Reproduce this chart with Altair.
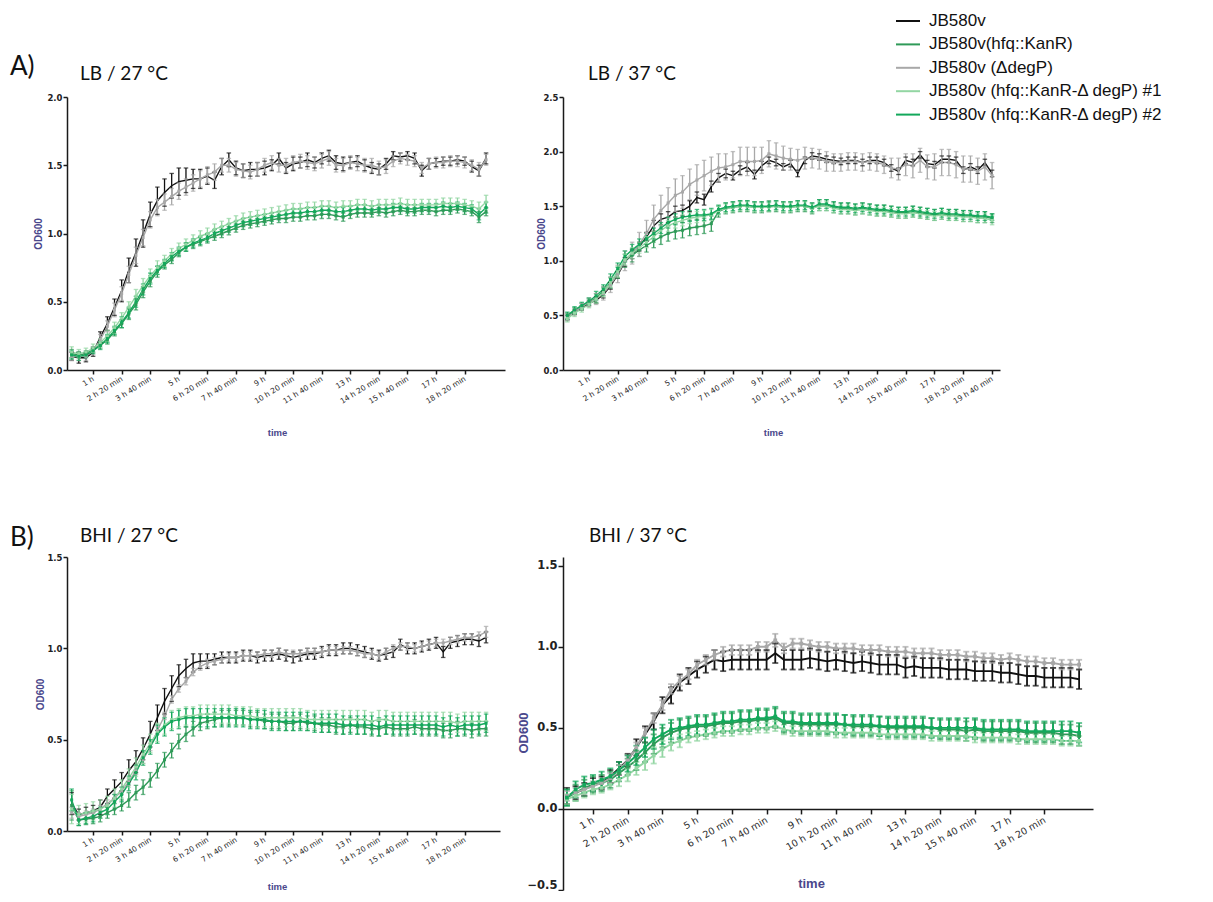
import altair as alt
import pandas as pd

# ---------------- series / styling ----------------
SERIES = ["JB580v", "JB580v(hfq::KanR)", "JB580v (ΔdegP)",
          "JB580v (hfq::KanR-Δ degP) #1", "JB580v (hfq::KanR-Δ degP) #2"]
COLORS = ["#111111", "#2f9a58", "#a8a8a8", "#93d6a3", "#13a85b"]
STEP_MIN = 20  # one reading every 20 min

XT14 = [60, 140, 220, 300, 380, 460, 540, 620, 700, 780, 860, 940, 1020, 1100]
XT15 = XT14 + [1180]

# ---------------- A) LB / 27 °C ----------------
LB27_WT = [0.10, 0.09, 0.09, 0.13, 0.24, 0.34, 0.46, 0.58, 0.73, 0.86,
           1.00, 1.14, 1.24, 1.30, 1.35, 1.38, 1.39, 1.40, 1.40, 1.42,
           1.39, 1.49, 1.54, 1.48, 1.46, 1.47, 1.47, 1.48, 1.50, 1.55,
           1.48, 1.51, 1.52, 1.54, 1.52, 1.55, 1.57, 1.52, 1.51, 1.52,
           1.53, 1.50, 1.48, 1.47, 1.51, 1.57, 1.56, 1.57, 1.55, 1.46,
           1.51, 1.52, 1.53, 1.53, 1.54, 1.53, 1.49, 1.46, 1.55]
LB27_WT_SD = [0.03, 0.04, 0.03, 0.03, 0.04, 0.05, 0.06, 0.08, 0.09, 0.10,
              0.10, 0.09, 0.10, 0.10, 0.09, 0.10, 0.09, 0.07, 0.07, 0.06,
              0.06, 0.06, 0.05, 0.05, 0.05, 0.05, 0.05, 0.05, 0.04, 0.04,
              0.04, 0.05, 0.04, 0.05, 0.04, 0.04, 0.04, 0.05, 0.05, 0.04,
              0.04, 0.04, 0.04, 0.04, 0.04, 0.03, 0.03, 0.03, 0.04, 0.04,
              0.04, 0.03, 0.03, 0.03, 0.03, 0.03, 0.04, 0.04, 0.04]
LB27_HFQ = [0.12, 0.11, 0.12, 0.15, 0.18, 0.22, 0.28, 0.34, 0.41, 0.48,
            0.57, 0.65, 0.72, 0.77, 0.81, 0.86, 0.90, 0.92, 0.94, 0.96,
            0.98, 1.00, 1.02, 1.04, 1.06, 1.07, 1.08, 1.09, 1.10, 1.11,
            1.11, 1.12, 1.12, 1.13, 1.13, 1.14, 1.14, 1.13, 1.12, 1.14,
            1.15, 1.15, 1.15, 1.16, 1.15, 1.16, 1.17, 1.16, 1.16, 1.17,
            1.17, 1.16, 1.17, 1.17, 1.18, 1.17, 1.16, 1.12, 1.16]
LB27_HFQ_SD = [0.03, 0.02, 0.02, 0.02, 0.02, 0.03, 0.03, 0.03, 0.04, 0.04,
               0.04, 0.04, 0.04, 0.03, 0.03, 0.03, 0.03, 0.03, 0.03, 0.03,
               0.03, 0.03, 0.03, 0.03, 0.03, 0.03, 0.03, 0.03, 0.03, 0.03,
               0.03, 0.03, 0.03, 0.03, 0.03, 0.03, 0.03, 0.03, 0.03, 0.03,
               0.03, 0.03, 0.03, 0.03, 0.03, 0.03, 0.03, 0.03, 0.03, 0.03,
               0.03, 0.03, 0.03, 0.03, 0.03, 0.03, 0.03, 0.04, 0.03]
LB27_DEGP = [0.10, 0.10, 0.10, 0.14, 0.22, 0.32, 0.44, 0.56, 0.70, 0.84,
             0.97, 1.10, 1.19, 1.23, 1.27, 1.31, 1.34, 1.37, 1.40, 1.43,
             1.45, 1.50, 1.50, 1.47, 1.46, 1.45, 1.47, 1.50, 1.52, 1.50,
             1.50, 1.52, 1.53, 1.52, 1.51, 1.53, 1.55, 1.50, 1.50, 1.52,
             1.51, 1.50, 1.50, 1.48, 1.49, 1.53, 1.55, 1.54, 1.53, 1.48,
             1.51, 1.52, 1.52, 1.53, 1.53, 1.52, 1.50, 1.47, 1.54]
LB27_DEGP_SD = [0.03, 0.03, 0.03, 0.03, 0.04, 0.04, 0.05, 0.05, 0.06, 0.06,
                0.06, 0.06, 0.06, 0.06, 0.06, 0.06, 0.06, 0.06, 0.06, 0.06,
                0.06, 0.05, 0.05, 0.05, 0.05, 0.05, 0.05, 0.05, 0.05, 0.05,
                0.05, 0.05, 0.05, 0.05, 0.05, 0.05, 0.05, 0.05, 0.05, 0.05,
                0.05, 0.05, 0.05, 0.05, 0.05, 0.04, 0.04, 0.04, 0.04, 0.04,
                0.04, 0.04, 0.04, 0.04, 0.04, 0.04, 0.04, 0.05, 0.04]
LB27_D1 = [0.13, 0.12, 0.13, 0.16, 0.20, 0.25, 0.31, 0.38, 0.46, 0.54,
           0.62, 0.69, 0.75, 0.80, 0.85, 0.89, 0.92, 0.95, 0.98, 1.00,
           1.03, 1.05, 1.07, 1.09, 1.11, 1.12, 1.13, 1.14, 1.15, 1.16,
           1.17, 1.18, 1.18, 1.19, 1.19, 1.20, 1.20, 1.19, 1.20, 1.20,
           1.21, 1.21, 1.20, 1.21, 1.21, 1.21, 1.22, 1.21, 1.21, 1.21,
           1.21, 1.21, 1.22, 1.22, 1.22, 1.21, 1.20, 1.18, 1.23]
LB27_D1_SD = [0.04, 0.03, 0.03, 0.03, 0.03, 0.04, 0.04, 0.04, 0.04, 0.05,
              0.05, 0.05, 0.05, 0.04, 0.04, 0.04, 0.04, 0.04, 0.04, 0.04,
              0.04, 0.04, 0.04, 0.04, 0.04, 0.04, 0.04, 0.04, 0.04, 0.04,
              0.04, 0.04, 0.04, 0.04, 0.04, 0.04, 0.04, 0.04, 0.04, 0.04,
              0.04, 0.04, 0.04, 0.04, 0.04, 0.04, 0.04, 0.04, 0.04, 0.04,
              0.04, 0.04, 0.04, 0.04, 0.04, 0.04, 0.04, 0.05, 0.05]
LB27_D2 = [0.11, 0.10, 0.11, 0.14, 0.18, 0.23, 0.29, 0.35, 0.42, 0.50,
           0.59, 0.67, 0.73, 0.78, 0.83, 0.87, 0.90, 0.93, 0.95, 0.97,
           1.00, 1.02, 1.04, 1.06, 1.08, 1.09, 1.10, 1.11, 1.12, 1.13,
           1.14, 1.15, 1.15, 1.16, 1.16, 1.17, 1.17, 1.16, 1.16, 1.17,
           1.18, 1.18, 1.17, 1.18, 1.18, 1.19, 1.19, 1.18, 1.18, 1.19,
           1.19, 1.19, 1.20, 1.19, 1.20, 1.19, 1.18, 1.14, 1.19]
LB27_D2_SD = [0.03, 0.03, 0.02, 0.02, 0.03, 0.03, 0.03, 0.04, 0.04, 0.04,
              0.04, 0.04, 0.03, 0.03, 0.03, 0.03, 0.03, 0.03, 0.03, 0.03,
              0.03, 0.03, 0.03, 0.03, 0.03, 0.03, 0.03, 0.03, 0.03, 0.03,
              0.03, 0.03, 0.03, 0.03, 0.03, 0.03, 0.03, 0.03, 0.03, 0.03,
              0.03, 0.03, 0.03, 0.03, 0.03, 0.03, 0.03, 0.03, 0.03, 0.03,
              0.03, 0.03, 0.03, 0.03, 0.03, 0.03, 0.03, 0.04, 0.04]

# ---------------- A) LB / 37 °C ----------------
LB37_WT = [0.48, 0.53, 0.57, 0.61, 0.64, 0.69, 0.77, 0.87, 0.99, 1.06,
           1.13, 1.22, 1.32, 1.38, 1.40, 1.45, 1.46, 1.50, 1.58, 1.56,
           1.68, 1.76, 1.80, 1.78, 1.83, 1.86, 1.79, 1.87, 1.92, 1.90,
           1.86, 1.89, 1.80, 1.92, 1.96, 1.95, 1.93, 1.92, 1.91, 1.92,
           1.92, 1.90, 1.92, 1.92, 1.90, 1.85, 1.82, 1.92, 1.90, 1.97,
           1.89, 1.88, 1.93, 1.93, 1.92, 1.83, 1.86, 1.83, 1.90, 1.80]
LB37_WT_SD = [0.02, 0.02, 0.02, 0.02, 0.03, 0.03, 0.03, 0.03, 0.04, 0.04,
              0.04, 0.04, 0.05, 0.05, 0.05, 0.05, 0.05, 0.05, 0.05, 0.05,
              0.05, 0.04, 0.04, 0.04, 0.04, 0.04, 0.04, 0.04, 0.03, 0.03,
              0.03, 0.03, 0.03, 0.03, 0.03, 0.03, 0.03, 0.03, 0.03, 0.03,
              0.03, 0.03, 0.03, 0.03, 0.03, 0.03, 0.03, 0.03, 0.03, 0.03,
              0.03, 0.03, 0.03, 0.03, 0.03, 0.03, 0.03, 0.03, 0.03, 0.03]
LB37_HFQ = [0.49, 0.54, 0.58, 0.62, 0.66, 0.72, 0.80, 0.89, 1.00, 1.05,
            1.10, 1.14, 1.18, 1.22, 1.25, 1.27, 1.28, 1.30, 1.31, 1.32,
            1.34, 1.45, 1.48, 1.49, 1.50, 1.50, 1.49, 1.49, 1.50, 1.50,
            1.49, 1.49, 1.50, 1.50, 1.48, 1.51, 1.51, 1.49, 1.48, 1.48,
            1.47, 1.48, 1.47, 1.46, 1.46, 1.45, 1.44, 1.44, 1.45, 1.44,
            1.43, 1.42, 1.43, 1.42, 1.42, 1.41, 1.41, 1.40, 1.40, 1.39]
LB37_HFQ_SD = [0.03, 0.03, 0.03, 0.03, 0.04, 0.04, 0.05, 0.05, 0.06, 0.06,
               0.06, 0.06, 0.06, 0.07, 0.07, 0.07, 0.07, 0.07, 0.07, 0.07,
               0.07, 0.05, 0.05, 0.05, 0.05, 0.05, 0.05, 0.05, 0.05, 0.05,
               0.05, 0.05, 0.05, 0.05, 0.05, 0.05, 0.05, 0.05, 0.05, 0.05,
               0.05, 0.05, 0.05, 0.05, 0.05, 0.05, 0.05, 0.05, 0.05, 0.05,
               0.05, 0.05, 0.05, 0.05, 0.05, 0.05, 0.05, 0.05, 0.05, 0.04]
LB37_DEGP = [0.48, 0.53, 0.58, 0.62, 0.65, 0.70, 0.78, 0.88, 1.00, 1.07,
             1.15, 1.25, 1.38, 1.46, 1.53, 1.60, 1.63, 1.70, 1.74, 1.78,
             1.82, 1.85, 1.86, 1.88, 1.91, 1.91, 1.91, 1.92, 1.98, 1.96,
             1.94, 1.93, 1.92, 1.94, 1.94, 1.93, 1.91, 1.90, 1.90, 1.91,
             1.91, 1.90, 1.91, 1.90, 1.88, 1.85, 1.84, 1.88, 1.87, 1.92,
             1.86, 1.86, 1.90, 1.90, 1.88, 1.84, 1.84, 1.82, 1.86, 1.78]
LB37_DEGP_SD = [0.03, 0.03, 0.03, 0.04, 0.05, 0.06, 0.07, 0.08, 0.09, 0.10,
                0.11, 0.12, 0.13, 0.14, 0.14, 0.15, 0.15, 0.14, 0.14, 0.14,
                0.13, 0.13, 0.12, 0.12, 0.13, 0.13, 0.13, 0.12, 0.12, 0.12,
                0.11, 0.10, 0.10, 0.10, 0.09, 0.09, 0.09, 0.08, 0.08, 0.08,
                0.08, 0.08, 0.08, 0.08, 0.08, 0.09, 0.10, 0.10, 0.11, 0.11,
                0.11, 0.12, 0.12, 0.12, 0.12, 0.12, 0.12, 0.12, 0.12, 0.12]
LB37_D1 = [0.47, 0.52, 0.56, 0.60, 0.65, 0.71, 0.80, 0.90, 1.01, 1.07,
           1.12, 1.17, 1.22, 1.28, 1.32, 1.35, 1.37, 1.39, 1.40, 1.41,
           1.42, 1.46, 1.48, 1.49, 1.50, 1.50, 1.49, 1.49, 1.49, 1.50,
           1.49, 1.49, 1.50, 1.50, 1.48, 1.50, 1.50, 1.48, 1.47, 1.47,
           1.46, 1.47, 1.46, 1.45, 1.45, 1.44, 1.43, 1.43, 1.44, 1.43,
           1.42, 1.41, 1.42, 1.41, 1.41, 1.40, 1.40, 1.39, 1.39, 1.37]
LB37_D1_SD = [0.03, 0.03, 0.03, 0.03, 0.04, 0.04, 0.04, 0.05, 0.05, 0.05,
              0.05, 0.05, 0.05, 0.05, 0.05, 0.05, 0.05, 0.05, 0.05, 0.05,
              0.05, 0.04, 0.04, 0.04, 0.04, 0.04, 0.04, 0.04, 0.04, 0.04,
              0.04, 0.04, 0.04, 0.04, 0.04, 0.04, 0.04, 0.04, 0.04, 0.04,
              0.04, 0.04, 0.04, 0.04, 0.04, 0.04, 0.04, 0.04, 0.04, 0.04,
              0.04, 0.04, 0.04, 0.04, 0.04, 0.04, 0.04, 0.04, 0.04, 0.04]
LB37_D2 = [0.50, 0.55, 0.59, 0.63, 0.68, 0.74, 0.83, 0.93, 1.04, 1.10,
           1.15, 1.20, 1.25, 1.30, 1.35, 1.38, 1.40, 1.41, 1.42, 1.42,
           1.43, 1.47, 1.49, 1.50, 1.51, 1.51, 1.50, 1.50, 1.50, 1.51,
           1.50, 1.50, 1.51, 1.51, 1.49, 1.52, 1.52, 1.50, 1.49, 1.49,
           1.48, 1.49, 1.48, 1.47, 1.47, 1.46, 1.45, 1.45, 1.46, 1.45,
           1.44, 1.43, 1.44, 1.43, 1.43, 1.42, 1.42, 1.41, 1.41, 1.40]
LB37_D2_SD = [0.03, 0.03, 0.03, 0.03, 0.04, 0.04, 0.05, 0.05, 0.05, 0.05,
              0.05, 0.05, 0.05, 0.05, 0.05, 0.05, 0.05, 0.05, 0.05, 0.05,
              0.05, 0.04, 0.04, 0.04, 0.04, 0.04, 0.04, 0.04, 0.04, 0.04,
              0.04, 0.04, 0.04, 0.04, 0.04, 0.04, 0.04, 0.04, 0.04, 0.04,
              0.04, 0.04, 0.04, 0.04, 0.04, 0.04, 0.04, 0.04, 0.04, 0.04,
              0.04, 0.04, 0.04, 0.04, 0.04, 0.04, 0.04, 0.04, 0.04, 0.03]

# ---------------- B) BHI / 27 °C ----------------
BHI27_WT = [0.15, 0.09, 0.10, 0.11, 0.13, 0.19, 0.23, 0.27, 0.33, 0.38,
            0.45, 0.53, 0.62, 0.71, 0.78, 0.85, 0.89, 0.92, 0.93, 0.93,
            0.94, 0.95, 0.95, 0.95, 0.96, 0.96, 0.95, 0.96, 0.96, 0.97,
            0.96, 0.95, 0.96, 0.97, 0.97, 0.98, 0.99, 0.99, 1.00, 1.00,
            0.99, 0.98, 0.97, 0.96, 0.97, 0.98, 1.02, 1.00, 1.00, 1.01,
            1.02, 1.03, 0.98, 1.03, 1.04, 1.05, 1.05, 1.04, 1.06]
BHI27_WT_SD = [0.06, 0.03, 0.03, 0.03, 0.04, 0.04, 0.05, 0.05, 0.06, 0.06,
               0.06, 0.07, 0.07, 0.07, 0.07, 0.06, 0.05, 0.05, 0.04, 0.04,
               0.03, 0.03, 0.03, 0.03, 0.03, 0.03, 0.03, 0.03, 0.03, 0.03,
               0.03, 0.03, 0.03, 0.03, 0.03, 0.03, 0.03, 0.03, 0.03, 0.03,
               0.03, 0.03, 0.03, 0.03, 0.03, 0.03, 0.03, 0.03, 0.03, 0.03,
               0.03, 0.03, 0.03, 0.03, 0.03, 0.03, 0.03, 0.03, 0.03]
BHI27_HFQ = [0.14, 0.06, 0.065, 0.07, 0.08, 0.10, 0.12, 0.14, 0.17, 0.21,
             0.24, 0.28, 0.33, 0.39, 0.44, 0.49, 0.53, 0.56, 0.59, 0.60,
             0.61, 0.62, 0.62, 0.62, 0.62, 0.61, 0.61, 0.60, 0.60, 0.60,
             0.59, 0.59, 0.60, 0.59, 0.59, 0.58, 0.58, 0.57, 0.57, 0.58,
             0.57, 0.57, 0.56, 0.56, 0.57, 0.56, 0.56, 0.56, 0.57, 0.56,
             0.56, 0.56, 0.55, 0.55, 0.56, 0.56, 0.55, 0.56, 0.56]
BHI27_HFQ_SD = [0.08, 0.03, 0.03, 0.03, 0.03, 0.03, 0.03, 0.03, 0.04, 0.04,
                0.04, 0.04, 0.04, 0.04, 0.04, 0.04, 0.04, 0.04, 0.04, 0.04,
                0.04, 0.04, 0.04, 0.04, 0.04, 0.04, 0.04, 0.04, 0.04, 0.04,
                0.04, 0.04, 0.04, 0.04, 0.04, 0.04, 0.04, 0.04, 0.04, 0.04,
                0.04, 0.04, 0.04, 0.04, 0.04, 0.04, 0.04, 0.04, 0.04, 0.04,
                0.04, 0.04, 0.04, 0.04, 0.04, 0.04, 0.04, 0.04, 0.04]
BHI27_DEGP = [0.10, 0.08, 0.09, 0.10, 0.12, 0.15, 0.18, 0.22, 0.27, 0.33,
              0.39, 0.46, 0.55, 0.63, 0.72, 0.78, 0.82, 0.87, 0.90, 0.92,
              0.93, 0.94, 0.95, 0.95, 0.96, 0.96, 0.96, 0.97, 0.97, 0.98,
              0.97, 0.97, 0.97, 0.98, 0.98, 0.98, 0.99, 0.99, 0.99, 0.99,
              0.98, 0.97, 0.97, 0.96, 0.98, 1.00, 1.01, 1.01, 1.00, 1.01,
              1.02, 1.03, 1.03, 1.04, 1.05, 1.06, 1.06, 1.07, 1.09]
BHI27_DEGP_SD = [0.03, 0.02, 0.02, 0.02, 0.02, 0.02, 0.02, 0.02, 0.02, 0.02,
                 0.02, 0.02, 0.02, 0.02, 0.02, 0.02, 0.02, 0.02, 0.02, 0.02,
                 0.02, 0.02, 0.02, 0.02, 0.02, 0.02, 0.02, 0.02, 0.02, 0.02,
                 0.02, 0.02, 0.02, 0.02, 0.02, 0.02, 0.02, 0.02, 0.02, 0.02,
                 0.02, 0.02, 0.02, 0.02, 0.02, 0.02, 0.02, 0.02, 0.02, 0.02,
                 0.02, 0.02, 0.02, 0.02, 0.02, 0.02, 0.02, 0.02, 0.03]
BHI27_D1 = [0.12, 0.09, 0.10, 0.11, 0.12, 0.14, 0.18, 0.23, 0.29, 0.35,
            0.42, 0.48, 0.54, 0.58, 0.61, 0.62, 0.63, 0.63, 0.64, 0.64,
            0.64, 0.64, 0.64, 0.63, 0.63, 0.63, 0.62, 0.62, 0.62, 0.62,
            0.62, 0.62, 0.62, 0.61, 0.61, 0.61, 0.61, 0.61, 0.61, 0.61,
            0.61, 0.61, 0.60, 0.61, 0.61, 0.60, 0.60, 0.60, 0.60, 0.60,
            0.60, 0.60, 0.60, 0.60, 0.59, 0.60, 0.60, 0.60, 0.60]
BHI27_D1_SD = [0.08, 0.05, 0.05, 0.05, 0.05, 0.05, 0.05, 0.05, 0.05, 0.05,
               0.05, 0.05, 0.05, 0.05, 0.05, 0.05, 0.05, 0.05, 0.05, 0.05,
               0.05, 0.05, 0.05, 0.05, 0.05, 0.05, 0.05, 0.05, 0.05, 0.05,
               0.05, 0.05, 0.05, 0.05, 0.05, 0.05, 0.05, 0.05, 0.05, 0.05,
               0.05, 0.05, 0.05, 0.05, 0.05, 0.05, 0.05, 0.05, 0.05, 0.05,
               0.05, 0.05, 0.05, 0.05, 0.05, 0.05, 0.05, 0.05, 0.05]
BHI27_D2 = [0.17, 0.06, 0.07, 0.08, 0.10, 0.12, 0.16, 0.20, 0.26, 0.32,
            0.40, 0.46, 0.53, 0.57, 0.60, 0.61, 0.62, 0.62, 0.62, 0.62,
            0.62, 0.62, 0.62, 0.62, 0.62, 0.61, 0.61, 0.61, 0.60, 0.60,
            0.60, 0.60, 0.60, 0.60, 0.59, 0.59, 0.59, 0.59, 0.58, 0.58,
            0.58, 0.58, 0.58, 0.57, 0.58, 0.58, 0.58, 0.58, 0.58, 0.58,
            0.58, 0.58, 0.57, 0.58, 0.57, 0.58, 0.58, 0.58, 0.59]
BHI27_D2_SD = [0.06, 0.03, 0.03, 0.03, 0.03, 0.03, 0.04, 0.04, 0.04, 0.04,
               0.04, 0.04, 0.05, 0.05, 0.05, 0.05, 0.05, 0.05, 0.05, 0.05,
               0.05, 0.05, 0.05, 0.05, 0.05, 0.05, 0.05, 0.05, 0.05, 0.05,
               0.05, 0.05, 0.05, 0.05, 0.05, 0.05, 0.05, 0.05, 0.05, 0.05,
               0.05, 0.05, 0.05, 0.05, 0.05, 0.05, 0.05, 0.05, 0.05, 0.05,
               0.05, 0.05, 0.05, 0.05, 0.05, 0.05, 0.05, 0.05, 0.05]

# ---------------- B) BHI / 37 °C ----------------
BHI37_WT = [0.08, 0.10, 0.12, 0.15, 0.16, 0.20, 0.25, 0.30, 0.38, 0.46,
            0.54, 0.64, 0.70, 0.78, 0.82, 0.86, 0.89, 0.92, 0.91, 0.92,
            0.92, 0.92, 0.92, 0.92, 0.96, 0.92, 0.92, 0.92, 0.93, 0.92,
            0.91, 0.92, 0.91, 0.90, 0.91, 0.90, 0.89, 0.89, 0.89, 0.87,
            0.88, 0.87, 0.87, 0.87, 0.86, 0.86, 0.86, 0.85, 0.85, 0.85,
            0.84, 0.84, 0.83, 0.82, 0.82, 0.81, 0.81, 0.81, 0.81, 0.80]
BHI37_WT_SD = [0.05, 0.04, 0.04, 0.04, 0.04, 0.04, 0.04, 0.04, 0.05, 0.05,
               0.05, 0.05, 0.05, 0.05, 0.05, 0.05, 0.05, 0.06, 0.06, 0.06,
               0.06, 0.06, 0.06, 0.06, 0.06, 0.06, 0.06, 0.06, 0.06, 0.06,
               0.06, 0.06, 0.06, 0.06, 0.06, 0.06, 0.06, 0.06, 0.06, 0.06,
               0.06, 0.06, 0.06, 0.06, 0.06, 0.06, 0.06, 0.06, 0.06, 0.06,
               0.06, 0.06, 0.06, 0.06, 0.06, 0.06, 0.06, 0.06, 0.06, 0.06]
BHI37_HFQ = [0.07, 0.10, 0.13, 0.15, 0.16, 0.18, 0.22, 0.26, 0.30, 0.35,
             0.40, 0.44, 0.47, 0.49, 0.50, 0.51, 0.51, 0.52, 0.53, 0.53,
             0.54, 0.54, 0.55, 0.55, 0.56, 0.53, 0.53, 0.52, 0.52, 0.52,
             0.52, 0.52, 0.52, 0.51, 0.51, 0.51, 0.51, 0.50, 0.50, 0.50,
             0.50, 0.50, 0.50, 0.49, 0.49, 0.49, 0.48, 0.49, 0.48, 0.48,
             0.48, 0.48, 0.48, 0.47, 0.47, 0.47, 0.47, 0.46, 0.46, 0.45]
BHI37_HFQ_SD = [0.05, 0.05, 0.05, 0.05, 0.05, 0.05, 0.05, 0.05, 0.06, 0.06,
                0.06, 0.06, 0.06, 0.06, 0.06, 0.06, 0.06, 0.06, 0.06, 0.06,
                0.06, 0.06, 0.06, 0.06, 0.06, 0.06, 0.06, 0.06, 0.06, 0.06,
                0.06, 0.06, 0.06, 0.06, 0.06, 0.06, 0.06, 0.06, 0.06, 0.06,
                0.06, 0.06, 0.06, 0.06, 0.06, 0.06, 0.06, 0.06, 0.06, 0.06,
                0.06, 0.06, 0.06, 0.06, 0.06, 0.06, 0.06, 0.06, 0.06, 0.06]
BHI37_DEGP = [0.08, 0.10, 0.12, 0.14, 0.16, 0.19, 0.24, 0.30, 0.38, 0.47,
              0.56, 0.64, 0.74, 0.79, 0.83, 0.89, 0.92, 0.95, 0.97, 0.98,
              0.98, 0.98, 1.00, 1.00, 1.04, 0.99, 1.02, 1.02, 1.01, 1.00,
              1.00, 0.99, 0.99, 0.99, 0.98, 0.98, 0.98, 0.97, 0.97, 0.97,
              0.96, 0.96, 0.96, 0.95, 0.95, 0.95, 0.94, 0.94, 0.93, 0.93,
              0.92, 0.93, 0.92, 0.91, 0.91, 0.90, 0.90, 0.89, 0.89, 0.89]
BHI37_DEGP_SD = [0.03, 0.03, 0.03, 0.03, 0.03, 0.03, 0.03, 0.03, 0.03, 0.03,
                 0.03, 0.03, 0.03, 0.03, 0.03, 0.03, 0.03, 0.03, 0.03, 0.03,
                 0.03, 0.03, 0.03, 0.03, 0.04, 0.03, 0.03, 0.03, 0.03, 0.03,
                 0.03, 0.03, 0.03, 0.03, 0.03, 0.03, 0.03, 0.03, 0.03, 0.03,
                 0.03, 0.03, 0.03, 0.03, 0.03, 0.03, 0.03, 0.03, 0.03, 0.03,
                 0.03, 0.03, 0.03, 0.03, 0.03, 0.03, 0.03, 0.03, 0.03, 0.03]
BHI37_D1 = [0.06, 0.08, 0.10, 0.12, 0.13, 0.15, 0.18, 0.21, 0.25, 0.29,
            0.33, 0.37, 0.40, 0.42, 0.44, 0.45, 0.46, 0.47, 0.48, 0.48,
            0.49, 0.49, 0.50, 0.50, 0.51, 0.49, 0.48, 0.48, 0.48, 0.48,
            0.48, 0.47, 0.47, 0.47, 0.47, 0.47, 0.46, 0.46, 0.46, 0.46,
            0.46, 0.46, 0.45, 0.45, 0.45, 0.45, 0.45, 0.44, 0.44, 0.44,
            0.44, 0.44, 0.43, 0.43, 0.43, 0.43, 0.43, 0.42, 0.42, 0.42]
BHI37_D1_SD = [0.03, 0.03, 0.03, 0.03, 0.03, 0.03, 0.04, 0.04, 0.04, 0.05,
               0.05, 0.05, 0.04, 0.04, 0.03, 0.03, 0.03, 0.03, 0.03, 0.03,
               0.03, 0.03, 0.03, 0.03, 0.03, 0.03, 0.03, 0.03, 0.03, 0.03,
               0.03, 0.03, 0.03, 0.03, 0.03, 0.03, 0.03, 0.03, 0.03, 0.03,
               0.03, 0.03, 0.03, 0.03, 0.03, 0.03, 0.03, 0.03, 0.03, 0.03,
               0.03, 0.03, 0.03, 0.03, 0.03, 0.03, 0.03, 0.03, 0.03, 0.03]
BHI37_D2 = [0.07, 0.12, 0.15, 0.16, 0.18, 0.20, 0.24, 0.28, 0.33, 0.38,
            0.43, 0.46, 0.49, 0.50, 0.51, 0.52, 0.52, 0.53, 0.54, 0.54,
            0.55, 0.55, 0.56, 0.56, 0.57, 0.54, 0.54, 0.53, 0.53, 0.53,
            0.53, 0.53, 0.52, 0.52, 0.52, 0.52, 0.51, 0.51, 0.51, 0.51,
            0.51, 0.51, 0.50, 0.50, 0.50, 0.50, 0.50, 0.50, 0.49, 0.49,
            0.49, 0.49, 0.49, 0.48, 0.48, 0.48, 0.48, 0.48, 0.48, 0.47]
BHI37_D2_SD = [0.05, 0.05, 0.05, 0.05, 0.05, 0.05, 0.05, 0.05, 0.06, 0.06,
               0.06, 0.06, 0.06, 0.06, 0.06, 0.06, 0.06, 0.06, 0.06, 0.06,
               0.06, 0.06, 0.06, 0.06, 0.06, 0.06, 0.06, 0.06, 0.06, 0.06,
               0.06, 0.06, 0.06, 0.06, 0.06, 0.06, 0.06, 0.06, 0.06, 0.06,
               0.06, 0.06, 0.06, 0.06, 0.06, 0.06, 0.06, 0.06, 0.06, 0.06,
               0.06, 0.06, 0.06, 0.06, 0.06, 0.06, 0.06, 0.06, 0.06, 0.06]

DATA = {
    "LB27": [(LB27_WT, LB27_WT_SD), (LB27_HFQ, LB27_HFQ_SD), (LB27_DEGP, LB27_DEGP_SD),
             (LB27_D1, LB27_D1_SD), (LB27_D2, LB27_D2_SD)],
    "LB37": [(LB37_WT, LB37_WT_SD), (LB37_HFQ, LB37_HFQ_SD), (LB37_DEGP, LB37_DEGP_SD),
             (LB37_D1, LB37_D1_SD), (LB37_D2, LB37_D2_SD)],
    "BHI27": [(BHI27_WT, BHI27_WT_SD), (BHI27_HFQ, BHI27_HFQ_SD), (BHI27_DEGP, BHI27_DEGP_SD),
              (BHI27_D1, BHI27_D1_SD), (BHI27_D2, BHI27_D2_SD)],
    "BHI37": [(BHI37_WT, BHI37_WT_SD), (BHI37_HFQ, BHI37_HFQ_SD), (BHI37_DEGP, BHI37_DEGP_SD),
              (BHI37_D1, BHI37_D1_SD), (BHI37_D2, BHI37_D2_SD)],
}

rows = []
for key, groups in DATA.items():
    for name, (means, sds) in zip(SERIES, groups):
        for i, (m, s) in enumerate(zip(means, sds)):
            rows.append({"panel": key, "s": name, "t": STEP_MIN * i,
                         "m": m, "lo": m - s, "hi": m + s})
df = pd.DataFrame(rows)

PURPLE = "#4a478c"
AXC = "#1a1a1a"
LABEL_EXPR = ("floor(datum.value / 60) + ' h' + "
              "(datum.value % 60 > 0 ? ' ' + (datum.value % 60) + ' min' : '')")

PANELS = [
    dict(key="LB27", title="LB / 27 °C", tag="A)", w=438, h=273, xdom=[-13, 1213],
         ydom=[0, 2.0], yt=[0, 0.5, 1.0, 1.5, 2.0], xt=XT14, tdx=13, tdy=-17, tagdy=-22,
         xtx=210, xty=62, ytx=-29, big=False),
    dict(key="LB37", title="LB / 37 °C", tag=None, w=437, h=273, xdom=[-12, 1202],
         ydom=[0, 2.5], yt=[0, 0.5, 1.0, 1.5, 2.0, 2.5], xt=XT15, tdx=25, tdy=-17,
         xtx=210, xty=62, ytx=-22, big=False),
    dict(key="BHI27", title="BHI / 27 °C", tag="B)", w=433, h=274, xdom=[-13, 1199],
         ydom=[0, 1.5], yt=[0, 0.5, 1.0, 1.5], xt=XT14, tdx=13, tdy=-15, tagdy=-11,
         xtx=210, xty=55, ytx=-27, big=False),
    dict(key="BHI37", title="BHI / 37 °C", tag=None, w=530, h=333, xdom=[-9, 1212],
         ydom=[-0.5, 1.554], yt=[-0.5, 0.0, 0.5, 1.0, 1.5], xt=XT14, tdx=26, tdy=-15,
         xtx=248, xty=75, ytx=-40, big=True),
]

LEGEND = alt.Legend(orient="none", legendX=828, legendY=-89, title=None,
                    symbolType="stroke", symbolSize=576, symbolStrokeWidth=2,
                    labelFont="Liberation Sans", labelFontSize=17, labelColor="#111111",
                    labelLimit=600, rowPadding=2.4, labelOffset=8, padding=0,
                    direction="vertical")


def make_panel(p):
    big = p["big"]
    ydom = p["ydom"]
    xoff = 0
    if ydom[0] < 0:
        xoff = -p["h"] * (0 - ydom[0]) / (ydom[1] - ydom[0])
    xaxis = alt.Axis(values=p["xt"], labelExpr=LABEL_EXPR,
                     labelAngle=-30 if big else -32, labelAlign="right",
                     labelBaseline="middle", labelFont="DejaVu Sans",
                     labelFontSize=9.5 if big else 7.5, labelColor="#2a2a2a",
                     labelPadding=5 if big else 4, tickSize=5 if big else 4,
                     tickWidth=1.5, tickColor=AXC, domainColor=AXC, domainWidth=1.5,
                     grid=False, title="time", titleFont="Liberation Sans",
                     titleFontWeight="bold", titleFontSize=13 if big else 9.5,
                     titleColor=PURPLE, titleX=p["xtx"], titleY=p["xty"],
                     titleAlign="center", titleBaseline="middle", offset=xoff,
                     labelFlush=False, labelOverlap=False, labelBound=False)
    yaxis = alt.Axis(values=p["yt"], format=".1f", labelFont="DejaVu Sans",
                     labelFontWeight="bold", labelFontSize=11.5 if big else 8.5,
                     labelColor="#222222", labelPadding=1, tickSize=5 if big else 4,
                     tickWidth=1.5, tickColor=AXC, domainColor=AXC, domainWidth=1.5,
                     grid=False, title="OD600", titleFont="Liberation Sans",
                     titleFontWeight="bold", titleFontSize=13 if big else 10,
                     titleColor=PURPLE, titleAngle=270, titleX=p["ytx"],
                     titleY=p["h"] / 2 + (9 if big else 0),
                     titleAlign="center", titleBaseline="middle",
                     labelFlush=bool(big), labelOverlap=False)
    xs = alt.Scale(domain=p["xdom"], nice=False, zero=False)
    ys = alt.Scale(domain=ydom, nice=False, zero=False)

    def X():
        return alt.X("t:Q", scale=xs, axis=xaxis, title="time")

    def Y(field):
        return alt.Y(f"{field}:Q", scale=ys, axis=yaxis, title="OD600")

    col_nolegend = alt.Color("s:N", scale=alt.Scale(domain=SERIES, range=COLORS), legend=None)
    col_legend = alt.Color("s:N", scale=alt.Scale(domain=SERIES, range=COLORS), legend=LEGEND)

    lw = 1.9 if big else 1.4
    ew = 1.8 if big else 1.3
    cap = 6 if big else 4.5

    base = alt.Chart(df[df.panel == p["key"]])
    line = base.mark_line(strokeWidth=lw).encode(x=X(), y=Y("m"), color=col_legend,
                                                 order="t:Q")
    bars = base.mark_rule(strokeWidth=ew).encode(x=X(), y=Y("lo"), y2="hi:Q", color=col_nolegend)
    cap_lo = base.mark_tick(orient="horizontal", size=cap, thickness=ew).encode(
        x=X(), y=Y("lo"), color=col_nolegend)
    cap_hi = base.mark_tick(orient="horizontal", size=cap, thickness=ew).encode(
        x=X(), y=Y("hi"), color=col_nolegend)
    pts = base.transform_filter(alt.datum.s != SERIES[0]).mark_square(
        size=14 if big else 9, opacity=1).encode(x=X(), y=Y("m"), color=col_nolegend)
    ttl = alt.Chart(pd.DataFrame({"txt": [p["title"]]})).mark_text(
        align="left", baseline="alphabetic", font="Lato", fontSize=19, color="#111111"
    ).encode(text="txt:N", x=alt.value(p["tdx"]), y=alt.value(p["tdy"]))
    layers = [line, bars, cap_lo, cap_hi, pts, ttl]
    if p["tag"]:
        tag = alt.Chart(pd.DataFrame({"txt": [p["tag"]]})).mark_text(
            align="left", baseline="alphabetic", font="Lato", fontSize=26, color="#111111"
        ).encode(text="txt:N", x=alt.value(-57), y=alt.value(p["tagdy"]))
        layers.append(tag)
    return alt.layer(*layers).properties(width=p["w"], height=p["h"])


panels = [make_panel(p) for p in PANELS]
chart = alt.concat(*panels, columns=2, spacing={"row": 187, "column": 58},
                   bounds="flush").properties(
    padding={"left": 2, "top": 0, "right": 0, "bottom": 0}
).configure(font="Liberation Sans").configure_view(stroke=None, strokeWidth=0)

chart.save("out.html", embed_options={"renderer": "svg", "actions": False})
